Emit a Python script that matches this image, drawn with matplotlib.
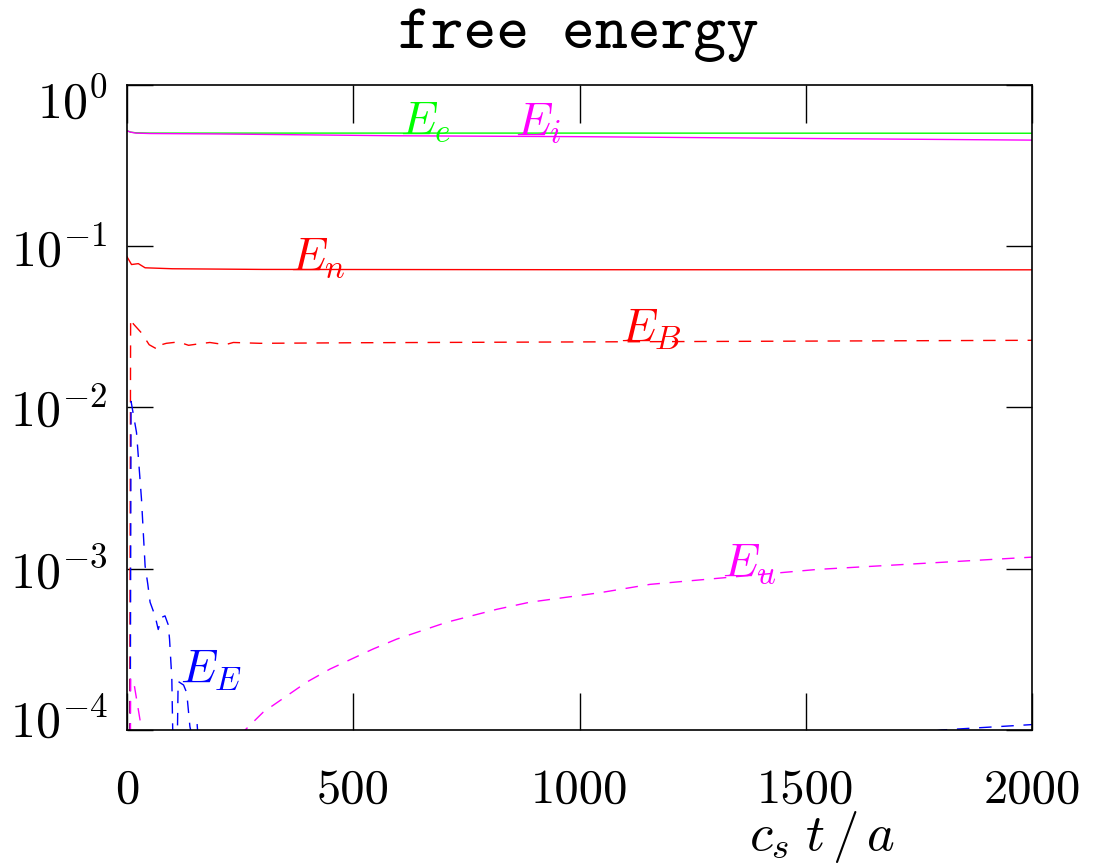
import matplotlib
matplotlib.use('Agg')
import matplotlib.pyplot as plt
from matplotlib.transforms import ScaledTranslation

plt.rcParams['font.family'] = 'cmr10'
plt.rcParams['mathtext.fontset'] = 'cm'
plt.rcParams['axes.unicode_minus'] = False

# free energy components vs c_s t / a
t_e = [0, 8, 20, 50, 200, 1000, 2000]
E_e = [0.52, 0.51, 0.505, 0.503, 0.503, 0.503, 0.502]

t_i = [0, 8, 20, 50, 200, 600, 1000, 1500, 2000]
E_i = [0.52, 0.51, 0.503, 0.500, 0.497, 0.484, 0.478, 0.466, 0.455]

t_n = [0, 10, 25, 40, 100, 300, 1000, 2000]
E_n = [0.086, 0.077, 0.078, 0.0735, 0.0725, 0.0718, 0.0715, 0.0714]

t_B = [0, 8, 14, 32, 49, 69, 76, 87, 114, 136, 158, 183, 217, 235, 294,
       500, 1000, 1500, 2000]
E_B = [1e-12, 0.0356, 0.033, 0.029, 0.0245, 0.0228, 0.0245, 0.025, 0.0255,
       0.0243, 0.0248, 0.0253, 0.0245, 0.0253, 0.025,
       0.0252, 0.0255, 0.0258, 0.0261]

t_E = [0, 9, 21, 32, 40, 46, 51, 62, 69, 77, 84, 91, 94, 99, 101, 104, 110,
       113, 125, 132, 139, 148, 155, 162, 300, 800, 1300, 1800, 2000]
E_E = [1e-12, 0.0109, 7.0e-3, 2.7e-3, 1.04e-3, 8.0e-4, 6.2e-4, 5.1e-4, 4.2e-4,
       5.0e-4, 5.1e-4, 4.5e-4, 3.66e-4, 2.1e-4, 1.0e-4, 5e-5, 5e-5,
       2.0e-4, 1.9e-4, 1.7e-4, 1.05e-4, 8e-5, 1.08e-4, 6e-5, 2e-5, 3e-5, 6e-5,
       1.0e-4, 1.08e-4]

t_u = [0, 8, 16, 30, 45, 80, 150, 220, 261, 301, 397, 449, 544, 596, 707,
       817, 890, 1045, 1156, 1525, 2000]
E_u = [1e-12, 2.1e-4, 1.9e-4, 1.1e-4, 6e-5, 3e-5, 2.5e-5, 5e-5, 1.0e-4,
       1.29e-4, 1.98e-4, 2.39e-4, 3.18e-4, 3.66e-4, 4.66e-4, 5.6e-4, 6.2e-4,
       7.1e-4, 8.0e-4, 9.9e-4, 1.18e-3]

xticks = [0, 500, 1000, 1500, 2000]
yticks = [1e-4, 1e-3, 1e-2, 1e-1, 1e0]
ytick_labels = [r'$10^{-4}$', r'$10^{-3}$', r'$10^{-2}$', r'$10^{-1}$',
                r'$10^{0}$']

fig = plt.figure(figsize=(10.93, 8.68), dpi=100)
ax = fig.add_axes([0.1162, 0.1590, 0.8280, 0.7431])

dash = (9, 7)
ax.plot(t_e, E_e, color='#00ff00', lw=1)
ax.plot(t_i, E_i, color='#ff00ff', lw=1)
ax.plot(t_n, E_n, color='#ff0000', lw=1)
ax.plot(t_B, E_B, color='#ff0000', lw=1, dashes=dash)
ax.plot(t_E, E_E, color='#0000ff', lw=1, dashes=dash)
ax.plot(t_u, E_u, color='#ff00ff', lw=1, dashes=dash)

ax.set_yscale('log')
ax.set_xlim(0, 2000)
ax.set_ylim(1e-4, 1)
ax.set_xticks(xticks)
ax.set_xticklabels([str(v) for v in xticks])
ax.set_yticks(yticks)
ax.set_yticklabels(ytick_labels)
ax.minorticks_off()

ax.tick_params(axis='x', direction='in', length=27, width=1, top=True,
               labelsize=35, pad=28)
ax.tick_params(axis='y', direction='in', length=19, width=1, right=True,
               labelsize=36, pad=14)
for s in ax.spines.values():
    s.set_linewidth(1.2)

# top and bottom y labels sit inside the frame, like the original
ylabs = ax.get_yticklabels()
ylabs[0].set_transform(ylabs[0].get_transform()
                       + ScaledTranslation(0, 12 / 100, fig.dpi_scale_trans))
ylabs[-1].set_transform(ylabs[-1].get_transform()
                        + ScaledTranslation(0, -14 / 100, fig.dpi_scale_trans))

# curve labels
lab = dict(fontsize=34, ha='left', va='baseline')
ax.text(603, 0.50, r'$E_e$', color='#00ff00', **lab)
ax.text(857, 0.49, r'$E_i$', color='#ff00ff', **lab)
ax.text(360, 0.0715, r'$E_n$', color='#ff0000', **lab)
ax.text(1090, 0.026, r'$E_B$', color='#ff0000', **lab)
ax.text(1315, 9.0e-4, r'$E_u$', color='#ff00ff', **lab)
ax.text(117, 1.98e-4, r'$E_E$', color='#0000ff', **lab)

fig.text(0.529, 1 - 48 / 868, 'free energy', ha='center', va='baseline',
         fontsize=45, family='cmtt10')
fig.text(822 / 1093, 1 - 850 / 868, r'$c_s\;t\,/\,a$', ha='center',
         va='baseline', fontsize=38)

fig.savefig('out.png', dpi=100)
